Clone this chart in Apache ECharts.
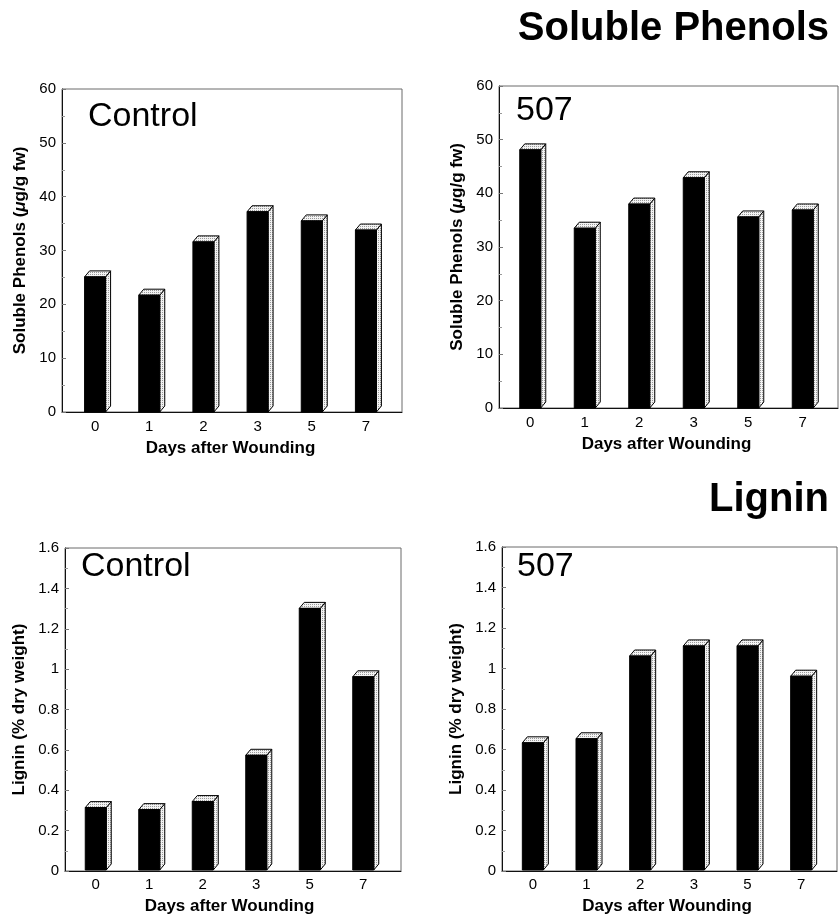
<!DOCTYPE html>
<html>
<head>
<meta charset="utf-8">
<script src="https://cdn.jsdelivr.net/npm/echarts@6/dist/echarts.min.js"></script>
<style>html,body{margin:0;padding:0;background:#fff;}#c{width:839px;height:916px;}</style>
</head>
<body>
<div id="c"></div>
<script>
// ---- data ----
const days = ['0', '1', '2', '3', '5', '7'];
const phenolsControl = [25.1, 21.7, 31.6, 37.2, 35.5, 33.8];
const phenols507 = [48.1, 33.5, 38.0, 42.9, 35.6, 36.9];
const ligninControl = [0.31, 0.30, 0.34, 0.57, 1.30, 0.96];
const lignin507 = [0.63, 0.65, 1.06, 1.11, 1.11, 0.96];
const phenolsTicks = [0, 10, 20, 30, 40, 50, 60];
const ligninTicks = [0, 0.2, 0.4, 0.6, 0.8, 1.0, 1.2, 1.4, 1.6];
const panelLabels = ['Control', '507', 'Control', '507'];
const sectionTitles = ['Soluble Phenols', 'Lignin'];
const xName = 'Days after Wounding';

const FONT = '"Liberation Sans", Arial, Helvetica, sans-serif';

// stipple pattern for the 3D faces
const pc = document.createElement('canvas');
pc.width = 2; pc.height = 2;
const pctx = pc.getContext('2d');
pctx.fillStyle = '#f3f3f3'; pctx.fillRect(0, 0, 2, 2);
pctx.fillStyle = '#9a9a9a';
pctx.fillRect(0, 0, 1, 1);
const stipple = { image: pc, repeat: 'repeat' };

const panels = [
  { outer: { left: 62, top: 89, width: 340, height: 323 }, inL: 68, inW: 325, ticks: phenolsTicks, data: phenolsControl,
    yname: 'Soluble Phenols ({i|μ}g/g fw)', gap: 33, label: panelLabels[0], lx: 88, ly: 117 },
  { outer: { left: 499, top: 86, width: 339, height: 322 }, inL: 503, inW: 327, ticks: phenolsTicks, data: phenols507,
    yname: 'Soluble Phenols ({i|μ}g/g fw)', gap: 33, label: panelLabels[1], lx: 516, ly: 111 },
  { outer: { left: 65, top: 548, width: 336, height: 323 }, inL: 69, inW: 321, ticks: ligninTicks, data: ligninControl,
    yname: 'Lignin (% dry weight)', gap: 37, label: panelLabels[2], lx: 81, ly: 567 },
  { outer: { left: 502, top: 547, width: 335, height: 324 }, inL: 506, inW: 322, ticks: ligninTicks, data: lignin507,
    yname: 'Lignin (% dry weight)', gap: 37, label: panelLabels[3], lx: 517, ly: 567 }
];

const grid = [], xAxis = [], yAxis = [], series = [], graphic = [];

function renderBar(params, api) {
  const cat = api.value(0), val = api.value(1);
  const p0 = api.coord([cat, 0]);
  const p1 = api.coord([cat, val]);
  const w = 21, dx = 5, dy = 6;
  const x = p1[0] - w / 2, y = p1[1], y0 = p0[1];
  return {
    type: 'group',
    children: [
      { type: 'polygon', shape: { points: [[x + w, y], [x + w + dx, y - dy], [x + w + dx, y0 - dy], [x + w, y0]] },
        style: { fill: stipple, stroke: '#000', lineWidth: 1 } },
      { type: 'polygon', shape: { points: [[x, y], [x + dx, y - dy], [x + w + dx, y - dy], [x + w, y]] },
        style: { fill: stipple, stroke: '#000', lineWidth: 1 } },
      { type: 'rect', shape: { x: x, y: y, width: w, height: y0 - y },
        style: { fill: '#000', stroke: '#000', lineWidth: 1 } }
    ]
  };
}

panels.forEach((p, i) => {
  const o = p.outer;
  const ymin = p.ticks[0], ymax = p.ticks[p.ticks.length - 1], step = p.ticks[1] - p.ticks[0];
  grid.push({ left: o.left, top: o.top, width: o.width, height: o.height, show: true, borderColor: '#6a6a6a', borderWidth: 1 });
  grid.push({ left: p.inL, top: o.top, width: p.inW, height: o.height });
  xAxis.push({ gridIndex: 2 * i, type: 'value', min: 0, max: 1, axisLabel: { show: false }, axisTick: { show: false },
    splitLine: { show: false }, axisLine: { show: true, lineStyle: { color: '#111', width: 1 } } });
  xAxis.push({ gridIndex: 2 * i + 1, type: 'category', data: days, boundaryGap: true,
    axisLine: { show: false }, axisTick: { show: false },
    axisLabel: { margin: 7, color: '#000', fontFamily: FONT, fontSize: 15 },
    name: xName, nameLocation: 'middle', nameGap: 28,
    nameTextStyle: { color: '#000', fontFamily: FONT, fontWeight: 'bold', fontSize: 17 } });
  yAxis.push({ gridIndex: 2 * i, type: 'value', min: ymin, max: ymax, interval: step,
    axisLine: { show: true, lineStyle: { color: '#111', width: 1 } },
    axisTick: { show: true, inside: true, length: 4, lineStyle: { color: '#777' } },
    minorTick: { show: true, splitNumber: 2, length: 3, lineStyle: { color: '#999' } },
    splitLine: { show: false },
    axisLabel: { margin: 6, color: '#000', fontFamily: FONT, fontSize: 15 },
    name: p.yname, nameLocation: 'middle', nameGap: p.gap,
    nameTextStyle: { color: '#000', fontFamily: FONT, fontWeight: 'bold', fontSize: 17,
      rich: { i: { fontStyle: 'italic', fontWeight: 'bold', fontFamily: FONT, fontSize: 17, color: '#000' } } } });
  yAxis.push({ gridIndex: 2 * i + 1, type: 'value', min: ymin, max: ymax, show: false });
  series.push({ type: 'custom', xAxisIndex: 2 * i + 1, yAxisIndex: 2 * i + 1,
    data: p.data.map((v, k) => [k, v]), renderItem: renderBar, clip: false, silent: true });
  graphic.push({ type: 'text', x: p.lx, y: p.ly,
    style: { text: p.label, fontFamily: FONT, fontSize: 34, fill: '#000', align: 'left', verticalAlign: 'middle' } });
});

graphic.push({ type: 'text', x: 829, y: 29,
  style: { text: sectionTitles[0], fontFamily: FONT, fontWeight: 'bold', fontSize: 40, fill: '#000', align: 'right', verticalAlign: 'middle' } });
graphic.push({ type: 'text', x: 829, y: 500,
  style: { text: sectionTitles[1], fontFamily: FONT, fontWeight: 'bold', fontSize: 40, fill: '#000', align: 'right', verticalAlign: 'middle' } });

const chart = echarts.init(document.getElementById('c'), null, { renderer: 'canvas' });
chart.setOption({ animation: false, backgroundColor: '#fff', grid, xAxis, yAxis, series, graphic });
</script>
</body>
</html>
